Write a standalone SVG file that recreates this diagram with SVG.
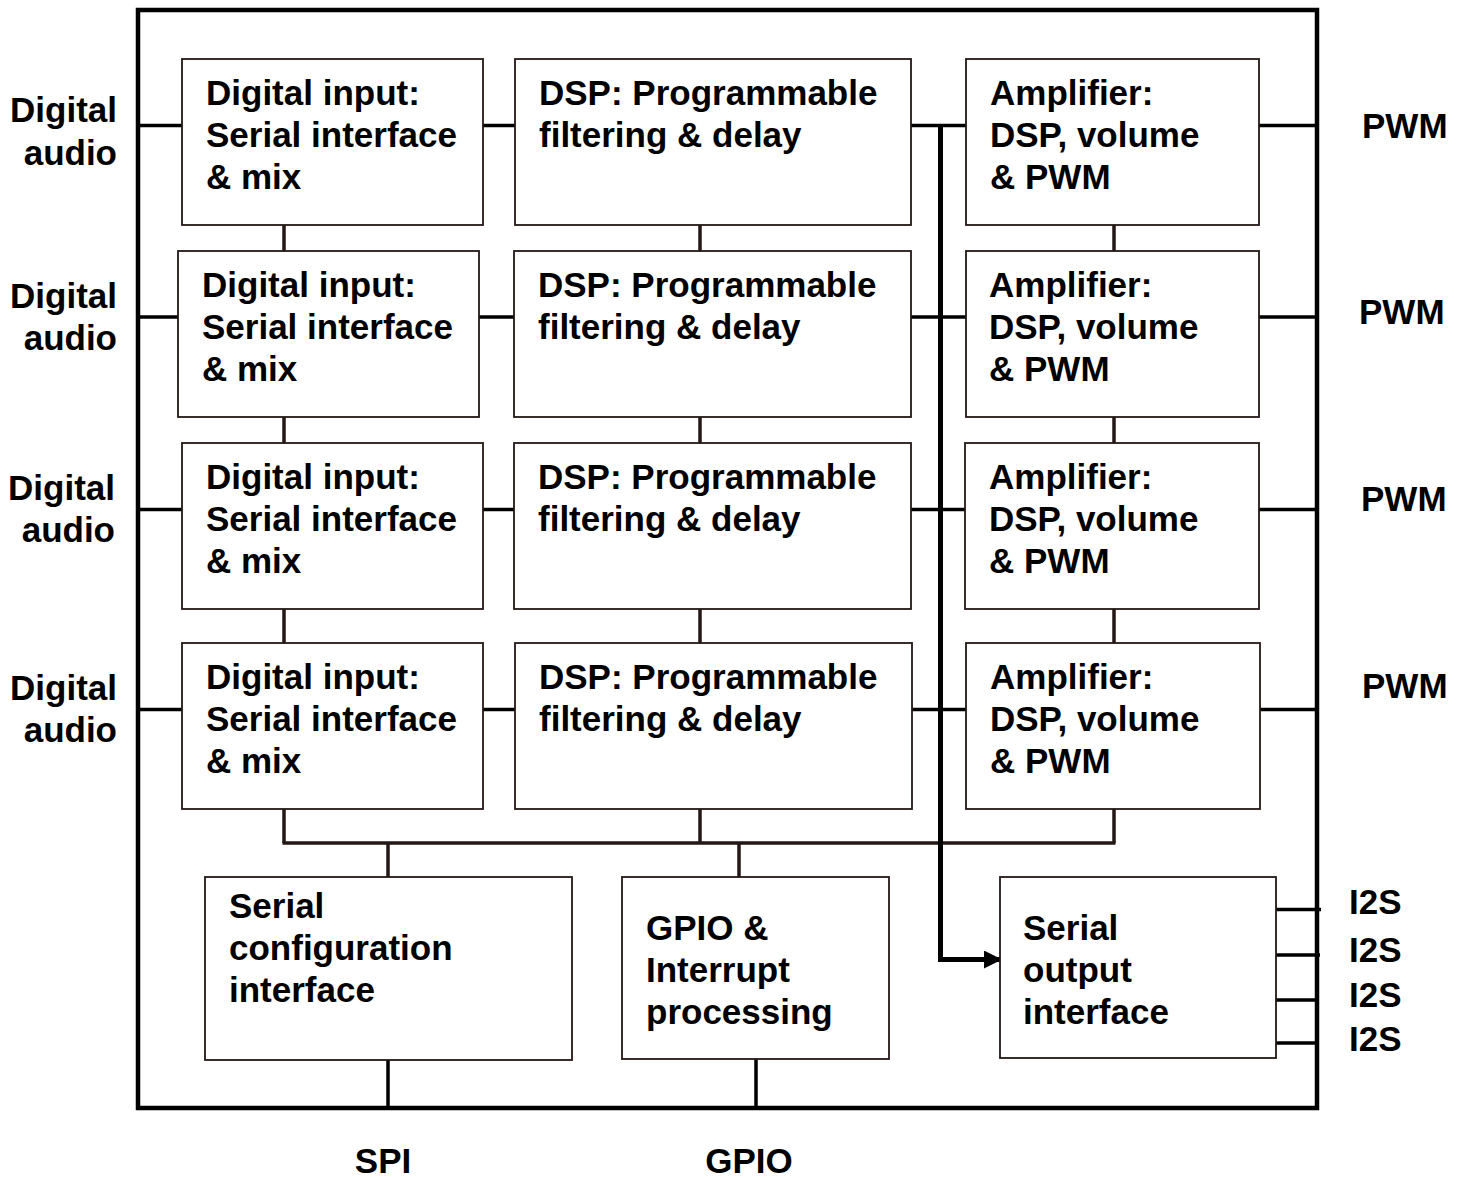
<svg xmlns="http://www.w3.org/2000/svg" width="1467" height="1178" viewBox="0 0 1467 1178">
<style>
text{font-family:"Liberation Sans",Arial,sans-serif;font-weight:bold;font-size:35px;fill:#000}
.box{fill:#fff;stroke:#231815;stroke-width:1.8}
.h{stroke:#000;stroke-width:3.5;fill:none}
.v{stroke:#231815;stroke-width:3.5;fill:none}
.bus{stroke:#000;stroke-width:5;fill:none}
.end{text-anchor:end}
.mid{text-anchor:middle}
</style>
<defs>
<marker id="arr" markerUnits="userSpaceOnUse" markerWidth="20" markerHeight="18" refX="17" refY="9" orient="auto">
<path d="M0,0 L18,9 L0,18 Z" fill="#000"/>
</marker>
</defs>
<rect x="138" y="10" width="1179" height="1098" fill="#fff" stroke="#000" stroke-width="4.5"/>
<g id="connectors">
<path class="h" d="M138,125.5H182 M483,125.5H515 M911,125.5H966 M1259,125.5H1317"/>
<path class="h" d="M138,317H178 M479,317H514 M911,317H966 M1259,317H1317"/>
<path class="h" d="M138,509.5H182 M483,509.5H514 M911,509.5H965 M1259,509.5H1317"/>
<path class="h" d="M138,709.5H182 M483,709.5H515 M912,709.5H966 M1260,709.5H1317"/>
<path class="v" d="M284,225V251 M284,417V443 M284,609V643 M284,809V843"/>
<path class="v" d="M700,225V251 M700,417V443 M700,609V643 M700,809V843"/>
<path class="v" d="M1114,225V251 M1114,417V443 M1114,609V643 M1114,809V843"/>
<path class="v" d="M282.5,843H1115.5 M388,843V877 M739,843V877"/>
<path class="bus" d="M940.5,125.5V959.5H1001" marker-end="url(#arr)"/>
<path class="h" d="M1276,909.5H1321 M1276,955H1320 M1276,1000H1318 M1276,1043H1318"/>
<path class="h" d="M388,1060V1108 M756,1059V1108"/>
</g>
<g id="in1"><rect class="box" x="182" y="59" width="301" height="166"/><text x="206" y="105">Digital input:</text><text x="206" y="147">Serial interface</text><text x="206" y="189">&amp; mix</text></g>
<g id="dsp1"><rect class="box" x="515" y="59" width="396" height="166"/><text x="539" y="105">DSP: Programmable</text><text x="539" y="147">filtering &amp; delay</text></g>
<g id="amp1"><rect class="box" x="966" y="59" width="293" height="166"/><text x="990" y="105">Amplifier:</text><text x="990" y="147">DSP, volume</text><text x="990" y="189">&amp; PWM</text></g>
<g id="in2"><rect class="box" x="178" y="251" width="301" height="166"/><text x="202" y="297">Digital input:</text><text x="202" y="339">Serial interface</text><text x="202" y="381">&amp; mix</text></g>
<g id="dsp2"><rect class="box" x="514" y="251" width="397" height="166"/><text x="538" y="297">DSP: Programmable</text><text x="538" y="339">filtering &amp; delay</text></g>
<g id="amp2"><rect class="box" x="966" y="251" width="293" height="166"/><text x="989" y="297">Amplifier:</text><text x="989" y="339">DSP, volume</text><text x="989" y="381">&amp; PWM</text></g>
<g id="in3"><rect class="box" x="182" y="443" width="301" height="166"/><text x="206" y="489">Digital input:</text><text x="206" y="531">Serial interface</text><text x="206" y="573">&amp; mix</text></g>
<g id="dsp3"><rect class="box" x="514" y="443" width="397" height="166"/><text x="538" y="489">DSP: Programmable</text><text x="538" y="531">filtering &amp; delay</text></g>
<g id="amp3"><rect class="box" x="965" y="443" width="294" height="166"/><text x="989" y="489">Amplifier:</text><text x="989" y="531">DSP, volume</text><text x="989" y="573">&amp; PWM</text></g>
<g id="in4"><rect class="box" x="182" y="643" width="301" height="166"/><text x="206" y="689">Digital input:</text><text x="206" y="731">Serial interface</text><text x="206" y="773">&amp; mix</text></g>
<g id="dsp4"><rect class="box" x="515" y="643" width="397" height="166"/><text x="539" y="689">DSP: Programmable</text><text x="539" y="731">filtering &amp; delay</text></g>
<g id="amp4"><rect class="box" x="966" y="643" width="294" height="166"/><text x="990" y="689">Amplifier:</text><text x="990" y="731">DSP, volume</text><text x="990" y="773">&amp; PWM</text></g>
<g id="sci"><rect class="box" x="205" y="877" width="367" height="183"/><text x="229" y="918">Serial</text><text x="229" y="960">configuration</text><text x="229" y="1002">interface</text></g>
<g id="gpio"><rect class="box" x="622" y="877" width="267" height="182"/><text x="646" y="940">GPIO &amp;</text><text x="646" y="982">Interrupt</text><text x="646" y="1024">processing</text></g>
<g id="soi"><rect class="box" x="1000" y="877" width="276" height="181"/><text x="1023" y="940">Serial</text><text x="1023" y="982">output</text><text x="1023" y="1024">interface</text></g>
<g id="labels">
<text class="end" x="117" y="122">Digital</text><text class="end" x="117" y="165">audio</text>
<text class="end" x="117" y="308">Digital</text><text class="end" x="117" y="350">audio</text>
<text class="end" x="115" y="500">Digital</text><text class="end" x="115" y="542">audio</text>
<text class="end" x="117" y="700">Digital</text><text class="end" x="117" y="742">audio</text>
<text x="1362" y="138">PWM</text>
<text x="1359" y="324">PWM</text>
<text x="1361" y="511">PWM</text>
<text x="1362" y="698">PWM</text>
<text x="1349" y="914">I2S</text>
<text x="1349" y="962">I2S</text>
<text x="1349" y="1007">I2S</text>
<text x="1349" y="1051">I2S</text>
<text class="mid" x="383" y="1173">SPI</text>
<text class="mid" x="749" y="1173">GPIO</text>
</g>
</svg>
